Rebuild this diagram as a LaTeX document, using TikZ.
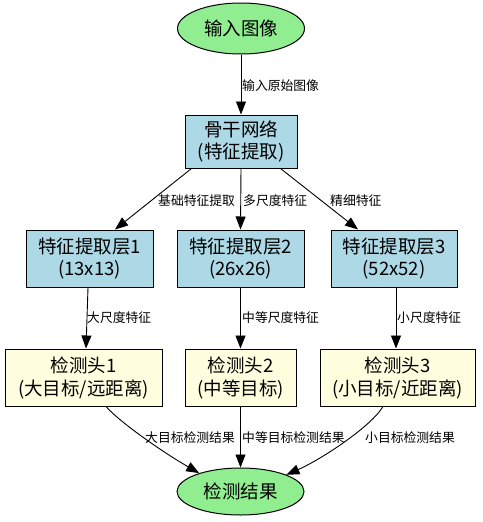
\documentclass[tikz,border=0pt]{standalone}
\usepackage{fontspec}
\setmainfont{Noto Sans CJK SC}
\usetikzlibrary{arrows.meta,shapes.geometric}
\definecolor{elgreen}{HTML}{90EE90}
\definecolor{boxblue}{HTML}{ADD8E6}
\definecolor{boxyellow}{HTML}{FFFFE0}
\tikzset{
  oval/.style={ellipse, draw=black, line width=1pt, fill=elgreen, inner sep=0pt,
    font=\fontsize{18.5}{22}\selectfont},
  bluebox/.style={rectangle, draw=black, line width=1pt, fill=boxblue, inner sep=0pt,
    align=center, font=\fontsize{18.5}{22}\selectfont},
  yellowbox/.style={rectangle, draw=black, line width=1pt, fill=boxyellow, inner sep=0pt,
    align=center, font=\fontsize{18.5}{23}\selectfont},
  arr/.style={draw=black, line width=0.9pt, -{Triangle[length=13pt,width=10pt]}},
  elabel/.style={anchor=west, inner sep=0pt, font=\fontsize{12.8}{15}\selectfont}
}
\begin{document}
\begin{tikzpicture}[x=1pt,y=-1pt]
\useasboundingbox (0,0) rectangle (482,522);
\node[oval, minimum width=127pt, minimum height=51pt] (in) at (241,28.5) {输入图像};
\node[bluebox, minimum width=112pt, minimum height=53pt] (bb) at (241,141.5) {骨干网络\\(特征提取)};
\node[bluebox, minimum width=127pt, minimum height=57pt] (f1) at (89.5,258.5) {特征提取层1\\(13x13)};
\node[bluebox, minimum width=127pt, minimum height=57pt] (f2) at (240.5,258.5) {特征提取层2\\(26x26)};
\node[bluebox, minimum width=126pt, minimum height=57pt] (f3) at (394,258.5) {特征提取层3\\(52x52)};
\node[yellowbox, minimum width=157pt, minimum height=57pt] (d1) at (83.5,377.5) {检测头1\\(大目标/远距离)};
\node[yellowbox, minimum width=111pt, minimum height=57pt] (d2) at (240.5,377.5) {检测头2\\(中等目标)};
\node[yellowbox, minimum width=155pt, minimum height=57pt] (d3) at (397.5,377.5) {检测头3\\(小目标/近距离)};
\node[oval, minimum width=127pt, minimum height=47pt] (res) at (240.5,491.5) {检测结果};

\draw[arr] (in.south) -- (bb.north);
\draw[arr] ([xshift=7pt]bb.south west) -- ([xshift=25.5pt]f1.north);
\draw[arr] (bb.south) -- (f2.north);
\draw[arr] ([xshift=-17pt]bb.south east) -- ([xshift=-36pt]f3.north);
\draw[arr] ([xshift=-1.5pt]f1.south) -- ([xshift=2.5pt]d1.north);
\draw[arr] (f2.south) -- (d2.north);
\draw[arr] ([xshift=2pt]f3.south) -- ([xshift=-1.5pt]d3.north);
\draw[arr] ([xshift=22.5pt]d1.south) .. controls +(14,16) and +(-35,-20) .. (res.156);
\draw[arr] (d2.south) -- (res.north);
\draw[arr] ([xshift=-14.5pt]d3.south) .. controls +(-12,20) and +(36,-16) .. (res.20);

\node[elabel] (l0) at (242,86) {输入原始图像};
\node[elabel] (l1) at (158,201) {基础特征提取};
\node[elabel] (l2) at (243,201) {多尺度特征};
\node[elabel] (l3) at (330,201) {精细特征};
\node[elabel] (l4) at (87,318) {大尺度特征};
\node[elabel] (l5) at (242,318) {中等尺度特征};
\node[elabel] (l6) at (397,318) {小尺度特征};
\node[elabel] (l7) at (145,438) {大目标检测结果};
\node[elabel] (l8) at (242,438) {中等目标检测结果};
\node[elabel] (l9) at (365,438) {小目标检测结果};
\end{tikzpicture}
\end{document}
